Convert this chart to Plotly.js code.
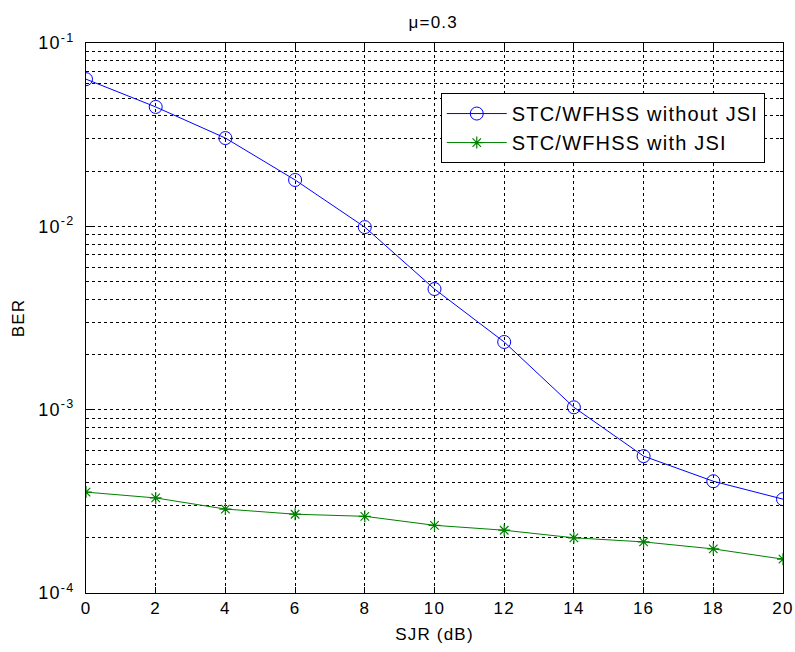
<!DOCTYPE html>
<html>
<head>
<meta charset="utf-8">
<script src="https://cdn.plot.ly/plotly-3.0.1.min.js"></script>
<style>html,body{margin:0;padding:0;background:#fff;}#chart{width:795px;height:652px;}
svg text{letter-spacing:1.2px;}</style>
</head>
<body>
<div id="chart"></div>
<script>
const sjr = [0, 2, 4, 6, 8, 10, 12, 14, 16, 18, 20];
const berWithoutJSI = [0.0635, 0.0448, 0.0303, 0.0179, 0.0099, 0.00455, 0.00234, 0.00103, 0.000558, 0.000407, 0.000325];
const berWithJSI = [0.000355, 0.00033, 0.000287, 0.000269, 0.000262, 0.000234, 0.00022, 0.0002, 0.00019, 0.000174, 0.000153];
const xTicks = [0, 2, 4, 6, 8, 10, 12, 14, 16, 18, 20];
const yTickVals = [1e-4, 1e-3, 1e-2, 1e-1];
const yTickText = ['10<sup>-4</sup>', '10<sup>-3</sup>', '10<sup>-2</sup>', '10<sup>-1</sup>'];
const seriesNames = ['STC/WFHSS without JSI', 'STC/WFHSS with JSI'];

const font = {family: 'Liberation Sans, Arial, sans-serif', size: 17, color: '#000'};

const traces = [
  {x: sjr, y: berWithoutJSI, name: seriesNames[0], type: 'scatter', mode: 'lines+markers',
   line: {color: '#0000ff', width: 1},
   marker: {symbol: 'circle-open', size: 13, color: '#0000ff', line: {width: 1, color: '#0000ff'}}},
  {x: sjr, y: berWithJSI, name: seriesNames[1], type: 'scatter', mode: 'lines+markers',
   line: {color: '#008000', width: 1},
   marker: {symbol: 'asterisk-open', size: 10, color: '#008000', line: {width: 1.2, color: '#008000'}}}
];

const layout = {
  width: 795, height: 652,
  margin: {l: 86, r: 12, t: 43, b: 59},
  paper_bgcolor: '#fff', plot_bgcolor: '#fff',
  font: font,
  showlegend: true,
  title: {text: 'μ=0.3', font: {family: font.family, size: 17, color: '#000'}, x: 0.545, xanchor: 'center', y: 0.966, yanchor: 'middle'},
  xaxis: {
    range: [0, 20], tickvals: xTicks, ticktext: xTicks.map(String),
    ticks: 'inside', ticklen: 6, tickcolor: '#000', mirror: 'ticks',
    showline: true, linecolor: '#000', linewidth: 1,
    showgrid: true, gridcolor: '#000', griddash: '3px,3px', gridwidth: 1,
    zeroline: false, tickfont: font,
    title: {text: 'SJR (dB)', font: font, standoff: 10}
  },
  yaxis: {
    type: 'log', range: [-4, -1], tickvals: yTickVals, ticktext: yTickText,
    ticks: 'inside', ticklen: 6, tickcolor: '#000', mirror: 'ticks',
    showline: true, linecolor: '#000', linewidth: 1,
    showgrid: true, gridcolor: '#000', griddash: '3px,3px', gridwidth: 1,
    zeroline: false, tickfont: {family: font.family, size: 18, color: '#000'},
    ticklabelstandoff: 7,
    minor: {dtick: 'D1', showgrid: true, gridcolor: '#000', griddash: '3px,3px', gridwidth: 1, ticks: 'inside', ticklen: 3, tickcolor: '#000'},
    title: {text: 'BER', font: font, standoff: 9}
  },
  legend: {
    x: 0.509, y: 0.909, xanchor: 'left', yanchor: 'top',
    bgcolor: '#fff', bordercolor: '#000', borderwidth: 1,
    font: {family: font.family, size: 20, color: '#000'},
    itemwidth: 60, tracegroupgap: 0
  }
};

Plotly.newPlot('chart', traces, layout, {displayModeBar: false, staticPlot: true});
</script>
</body>
</html>
